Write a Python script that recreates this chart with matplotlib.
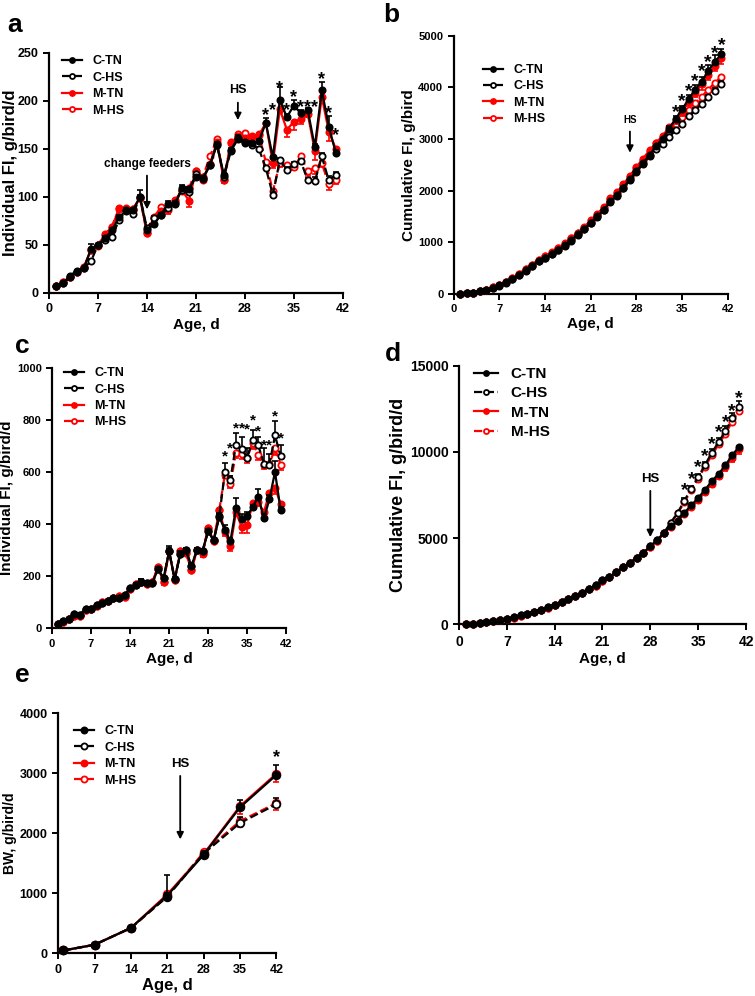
import numpy as np
import matplotlib.pyplot as plt

plt.rcParams['font.family'] = ['Liberation Sans', 'DejaVu Sans']
plt.rcParams['font.weight'] = 'bold'

# ------------------------------
# Data
days = list(range(1, 42))

# a: individual FI, g/bird/d
a_ctn = [7, 10, 18, 23, 26, 46, 50, 57, 65, 79, 85, 86, 100, 65, 72, 81, 93, 92, 109, 108, 121,
         119, 133, 154, 123, 149, 161, 157, 156, 158, 177, 141, 201, 183, 195, 187, 190, 152, 211, 173, 146]
a_chs = [7, 10, 16, 22, 26, 33, 50, 55, 58, 76, 86, 82, 100, 67, 78, 81, 88, 94, 107, 105, 124,
         120, 133, 155, 121, 148, 160, 156, 154, 150, 130, 102, 138, 128, 134, 137, 117, 116, 142, 117, 123]
a_mtn = [7, 11, 16, 22, 27, 45, 49, 60, 69, 87, 87, 87, 99, 62, 78, 85, 90, 96, 107, 96, 127,
         118, 134, 157, 117, 156, 163, 161, 162, 164, 177, 135, 191, 170, 178, 181, 186, 148, 204, 168, 150]
a_mhs = [7, 11, 16, 22, 27, 45, 50, 61, 69, 88, 88, 87, 99, 62, 79, 89, 86, 97, 106, 109, 127,
         121, 142, 160, 118, 157, 165, 166, 163, 165, 136, 106, 135, 133, 131, 142, 127, 130, 135, 113, 118]
a_ctn_err = [1, 1, 1, 1, 1, 5, 1, 2, 2, 2, 2, 2, 7, 2, 2, 2, 3, 2, 3, 2, 2,
             2, 2, 2, 2, 2, 3, 2, 2, 2, 5, 2, 13, 3, 6, 3, 2, 3, 9, 11, 3]
a_chs_err = [1, 1, 1, 1, 1, 2, 1, 2, 2, 2, 2, 2, 2, 2, 2, 2, 2, 2, 2, 2, 2,
             2, 2, 2, 2, 2, 2, 2, 2, 2, 2, 3, 2, 3, 2, 2, 3, 5, 4, 5, 3]
a_mtn_err = [1, 1, 1, 1, 1, 2, 1, 2, 2, 2, 2, 2, 2, 2, 2, 2, 8, 2, 2, 7, 2,
             2, 2, 2, 3, 2, 2, 2, 2, 2, 3, 5, 4, 8, 8, 5, 3, 10, 4, 10, 4]
a_mhs_err = [1, 1, 1, 1, 1, 2, 1, 2, 2, 2, 2, 2, 2, 2, 2, 2, 2, 2, 2, 2, 2,
             2, 2, 2, 2, 2, 2, 2, 2, 2, 3, 3, 4, 3, 3, 3, 5, 6, 4, 6, 5]
a_star_days = [31, 32, 33, 34, 35, 36, 37, 38, 39, 40, 41]
a_star_y = [185, 190, 213, 190, 203, 193, 193, 193, 222, 187, 164]

# b: cumulative FI, g/bird
b_ctn = [0, 10, 25, 50, 75, 120, 170, 225, 290, 370, 455, 540, 640, 700, 775, 855, 945, 1040, 1150, 1260, 1380,
         1500, 1630, 1790, 1910, 2060, 2220, 2380, 2530, 2690, 2860, 3010, 3200, 3390, 3580, 3770, 3960, 4110, 4320, 4500, 4640]
b_chs = [0, 10, 25, 50, 75, 110, 160, 215, 280, 360, 445, 530, 630, 695, 770, 850, 935, 1030, 1140, 1250, 1370,
         1490, 1620, 1780, 1900, 2050, 2210, 2370, 2520, 2670, 2800, 2900, 3040, 3170, 3300, 3440, 3560, 3680, 3810, 3940, 4060]
b_mtn = [0, 10, 25, 50, 80, 125, 175, 235, 305, 390, 475, 565, 660, 725, 800, 885, 975, 1075, 1180, 1280, 1410,
         1530, 1670, 1830, 1950, 2110, 2270, 2440, 2600, 2760, 2930, 3060, 3230, 3360, 3530, 3720, 3900, 4060, 4250, 4420, 4570]
b_mhs = [0, 10, 25, 50, 80, 125, 175, 235, 305, 390, 480, 565, 665, 725, 805, 895, 980, 1080, 1185, 1295, 1425,
         1545, 1690, 1850, 1965, 2125, 2290, 2460, 2620, 2780, 2920, 3030, 3160, 3290, 3420, 3560, 3690, 3820, 3960, 4090, 4210]
b_ctn_err = [0] * 32 + [50, 60, 70, 80, 90, 100, 110, 120, 110]
b_chs_err = [0] * 32 + [30, 30, 30, 40, 40, 40, 50, 50, 60]
b_mtn_err = [0] * 32 + [60, 70, 80, 80, 90, 100, 100, 110, 120]
b_mhs_err = [0] * 32 + [50, 60, 60, 70, 70, 80, 80, 90, 100]
b_star_days = [34, 35, 36, 37, 38, 39, 40, 41]
b_star_y = [3520, 3720, 3920, 4110, 4300, 4480, 4660, 4820]

# c: individual FI, g/bird/d
c_ctn = [18, 27, 37, 55, 53, 75, 75, 90, 97, 105, 115, 118, 128, 155, 165, 180, 175, 175, 228, 193, 295,
         190, 285, 300, 240, 300, 298, 372, 338, 428, 378, 335, 460, 418, 432, 465, 505, 422, 495, 600, 455]
c_chs = [18, 27, 37, 55, 53, 75, 75, 90, 97, 105, 115, 118, 128, 155, 165, 180, 175, 175, 228, 193, 295,
         190, 285, 300, 240, 300, 298, 372, 338, 430, 598, 570, 705, 688, 655, 722, 702, 632, 628, 740, 660]
c_mtn = [18, 25, 35, 48, 48, 70, 75, 85, 103, 105, 118, 125, 120, 150, 170, 180, 170, 180, 235, 180, 295,
         185, 295, 290, 225, 300, 290, 385, 335, 455, 370, 315, 445, 390, 395, 480, 485, 445, 520, 540, 478]
c_mhs = [18, 25, 35, 48, 48, 70, 75, 85, 103, 105, 118, 125, 120, 150, 170, 180, 170, 180, 235, 180, 295,
         185, 295, 290, 225, 300, 285, 385, 335, 455, 590, 555, 672, 668, 655, 712, 665, 628, 630, 690, 628]
c_ctn_err = [3, 3, 3, 5, 5, 5, 5, 5, 5, 5, 5, 5, 5, 5, 8, 8, 5, 5, 8, 10, 20,
             8, 10, 8, 10, 8, 8, 10, 8, 12, 20, 10, 40, 20, 15, 10, 30, 15, 15, 40, 10]
c_chs_err = [3, 3, 3, 5, 5, 5, 5, 5, 5, 5, 5, 5, 5, 5, 8, 8, 5, 5, 8, 10, 15,
             8, 10, 8, 10, 8, 8, 10, 8, 12, 35, 15, 45, 45, 35, 40, 30, 60, 40, 55, 45]
c_mtn_err = [3, 3, 3, 5, 5, 5, 5, 5, 5, 5, 5, 5, 5, 5, 8, 8, 5, 5, 8, 15, 10,
             8, 10, 8, 10, 8, 8, 10, 8, 10, 15, 20, 15, 25, 30, 10, 15, 10, 15, 25, 10]
c_mhs_err = [3, 3, 3, 5, 5, 5, 5, 5, 5, 5, 5, 5, 5, 5, 8, 8, 5, 5, 8, 10, 10,
             8, 10, 8, 10, 8, 10, 10, 8, 10, 15, 15, 20, 20, 20, 25, 20, 15, 15, 25, 20]
c_star_days = [31, 32, 33, 34, 35, 36, 37, 38, 39, 40, 41]
c_star_y = [658, 690, 767, 767, 762, 799, 754, 703, 703, 814, 728]

# d: cumulative FI
d_ctn = [20, 45, 80, 135, 190, 265, 340, 430, 525, 630, 745, 865, 990, 1145, 1310, 1490, 1665, 1840, 2070, 2260, 2560,
         2750, 3030, 3330, 3570, 3870, 4170, 4540, 4880, 5300, 5690, 6020, 6480, 6900, 7330, 7790, 8300, 8720, 9220, 9820, 10280]
d_chs = [20, 45, 80, 135, 190, 265, 340, 430, 525, 630, 745, 865, 990, 1145, 1310, 1490, 1665, 1840, 2070, 2260, 2560,
         2750, 3030, 3330, 3570, 3870, 4170, 4540, 4880, 5310, 5900, 6470, 7180, 7870, 8520, 9240, 9940, 10570, 11200, 11940, 12600]
d_mtn = [20, 45, 75, 125, 175, 245, 320, 405, 510, 615, 735, 860, 980, 1130, 1300, 1480, 1650, 1830, 2065, 2245, 2540,
         2725, 3020, 3310, 3535, 3835, 4125, 4510, 4845, 5300, 5670, 5985, 6400, 6800, 7200, 7680, 8160, 8600, 9120, 9660, 10140]
d_mhs = [20, 45, 75, 125, 175, 245, 320, 405, 510, 615, 735, 860, 980, 1130, 1300, 1480, 1650, 1830, 2065, 2245, 2540,
         2725, 3020, 3310, 3535, 3835, 4120, 4505, 4840, 5295, 5880, 6430, 7100, 7770, 8430, 9140, 9800, 10430, 11060, 11750, 12380]
d_chs_err = [0] * 32 + [120, 150, 180, 200, 230, 260, 300, 330, 360]
d_mtn_err = [0] * 32 + [100, 120, 140, 160, 180, 200, 220, 240, 260]
d_star_days = [33, 34, 35, 36, 37, 38, 39, 40, 41]
d_star_y = [7750, 8400, 9100, 9750, 10450, 11100, 11700, 12350, 13100]

# e: BW
e_days = [1, 7, 14, 21, 28, 35, 42]
e_ctn = [45, 140, 420, 960, 1640, 2430, 2970]
e_chs = [45, 140, 420, 940, 1660, 2170, 2480]
e_mtn = [45, 140, 420, 980, 1650, 2450, 2990]
e_mhs = [45, 140, 420, 950, 1680, 2200, 2500]
e_ctn_err = [10, 15, 30, 340, 40, 130, 160]
e_chs_err = [10, 15, 30, 60, 40, 100, 110]
e_mtn_err = [10, 15, 30, 40, 50, 130, 130]
e_mhs_err = [10, 15, 30, 40, 50, 90, 120]

labels = ['C-TN', 'C-HS', 'M-TN', 'M-HS']


def style_axis(ax, yticks, fs=8, xticks=range(0, 43, 7)):
    for s in ['top', 'right']:
        ax.spines[s].set_visible(False)
    for s in ['left', 'bottom']:
        ax.spines[s].set_linewidth(1.6)
    ax.set_xticks(list(xticks))
    ax.set_yticks(yticks)
    ax.tick_params(width=1.4, length=4, labelsize=fs)
    for t in ax.get_xticklabels() + ax.get_yticklabels():
        t.set_fontweight('bold')


def draw_series(ax, x, ys, errs, ms=4.5):
    # red drawn under black
    cols = ['black', 'black', 'red', 'red']
    lss = ['-', '--', '-', '--']
    faces = ['black', 'white', 'red', 'white']
    up = [True, True, False, False]
    handles = [None] * 4
    for i in [3, 2, 1, 0]:
        y = np.array(ys[i], dtype=float)
        if errs[i] is not None:
            e = np.array(errs[i], dtype=float)
            z = np.zeros_like(e)
            yerr = [z, e] if up[i] else [e, z]
            ax.errorbar(x, y, yerr=yerr, fmt='none', ecolor=cols[i], elinewidth=1.2,
                        capsize=2.5, capthick=1.2, clip_on=False, zorder=2 + (3 - i))
        ln, = ax.plot(x, y, color=cols[i], ls=lss[i], lw=1.6, marker='o', ms=ms,
                      mfc=faces[i], mec=cols[i], mew=1.3, clip_on=False, zorder=3 + (3 - i),
                      label=labels[i])
        handles[i] = ln
    return handles


def add_legend(ax, handles, loc='upper left', bbox=None, fs=9):
    leg = ax.legend(handles, labels, loc=loc, bbox_to_anchor=bbox, frameon=False,
                    fontsize=fs, handlelength=1.6, borderaxespad=0.2, labelspacing=0.35,
                    markerscale=0.8)
    for t in leg.get_texts():
        t.set_fontweight('bold')


def stars(ax, xs, ys, fs=13):
    for x, y in zip(xs, ys):
        ax.text(x, y, '*', ha='center', va='center', fontsize=fs, fontweight='bold')


def arrow(ax, text, x, y_text, y_start, y_end, fs=8):
    ax.annotate('', xy=(x, y_end), xytext=(x, y_start),
                arrowprops=dict(arrowstyle='-|>', color='black', lw=1.3, mutation_scale=10))
    ax.text(x, y_text, text, ha='center', va='bottom', fontsize=fs, fontweight='bold')


fig = plt.figure(figsize=(7.55, 9.96), dpi=100)

# ------------------------------
# a
ax = fig.add_axes([0.065, 0.706, 0.389, 0.241])
h = draw_series(ax, days, [a_ctn, a_chs, a_mtn, a_mhs], [a_ctn_err, a_chs_err, a_mtn_err, a_mhs_err])
ax.set_xlim(0, 42)
ax.set_ylim(0, 250)
style_axis(ax, range(0, 251, 50), fs=9)
ax.set_xlabel('Age, d', fontsize=11, fontweight='bold', labelpad=2)
ax.set_ylabel('Individual FI, g/bird/d', fontsize=12, fontweight='bold', labelpad=0)
add_legend(ax, h, bbox=(0.02, 1.02))
stars(ax, a_star_days, a_star_y)
arrow(ax, 'change feeders', 14, 128, 125, 84, fs=8.5)
arrow(ax, 'HS', 27, 205, 201, 177, fs=9)
fig.text(0.01, 0.975, 'a', fontsize=19, fontweight='bold', va='center')

# ------------------------------
# b
ax = fig.add_axes([0.601, 0.705, 0.363, 0.259])
h = draw_series(ax, days, [b_ctn, b_chs, b_mtn, b_mhs], [b_ctn_err, b_chs_err, b_mtn_err, b_mhs_err])
ax.set_xlim(0, 42)
ax.set_ylim(0, 5000)
style_axis(ax, range(0, 5001, 1000))
ax.set_xlabel('Age, d', fontsize=11, fontweight='bold', labelpad=2)
ax.set_ylabel('Cumulative FI, g/bird', fontsize=11, fontweight='bold', labelpad=2)
add_legend(ax, h, bbox=(0.08, 0.92))
stars(ax, b_star_days, b_star_y, fs=14)
arrow(ax, 'HS', 27, 3270, 3200, 2680, fs=7)
fig.text(0.508, 0.985, 'b', fontsize=19, fontweight='bold', va='center')

# ------------------------------
# c
ax = fig.add_axes([0.069, 0.369, 0.310, 0.262])
h = draw_series(ax, days, [c_ctn, c_chs, c_mtn, c_mhs], [c_ctn_err, c_chs_err, c_mtn_err, c_mhs_err])
ax.set_xlim(0, 42)
ax.set_ylim(0, 1000)
style_axis(ax, range(0, 1001, 200))
ax.set_xlabel('Age, d', fontsize=11, fontweight='bold', labelpad=2)
ax.set_ylabel('Individual FI, g/bird/d', fontsize=11, fontweight='bold', labelpad=2)
add_legend(ax, h, bbox=(0.02, 1.03))
stars(ax, c_star_days, c_star_y, fs=11)
fig.text(0.02, 0.653, 'c', fontsize=19, fontweight='bold', va='center')

# ------------------------------
# d
ax = fig.add_axes([0.608, 0.373, 0.380, 0.260])
h = draw_series(ax, days, [d_ctn, d_chs, d_mtn, d_mhs], [None, d_chs_err, d_mtn_err, None])
ax.set_xlim(0, 42)
ax.set_ylim(0, 15000)
style_axis(ax, range(0, 15001, 5000), fs=10)
ax.set_xlabel('Age, d', fontsize=11, fontweight='bold', labelpad=2)
ax.set_ylabel('Cumulative FI, g/bird/d', fontsize=13, fontweight='bold', labelpad=2)
add_legend(ax, h, bbox=(0.02, 1.03), fs=11)
stars(ax, d_star_days, d_star_y, fs=14)
arrow(ax, 'HS', 28, 8100, 7900, 4900, fs=9.5)
fig.text(0.51, 0.645, 'd', fontsize=19, fontweight='bold', va='center')

# ------------------------------
# e
ax = fig.add_axes([0.077, 0.043, 0.289, 0.241])
h = draw_series(ax, e_days, [e_ctn, e_chs, e_mtn, e_mhs], [e_ctn_err, e_chs_err, e_mtn_err, e_mhs_err], ms=5.5)
ax.set_xlim(0, 42)
ax.set_ylim(0, 4000)
style_axis(ax, range(0, 4001, 1000), fs=9)
ax.set_xlabel('Age, d', fontsize=12, fontweight='bold', labelpad=2)
ax.set_ylabel('BW, g/bird/d', fontsize=10, fontweight='bold', labelpad=2)
add_legend(ax, h, bbox=(0.04, 0.98))
stars(ax, [42], [3260])
arrow(ax, 'HS', 23.5, 3050, 3000, 1850, fs=9.5)
fig.text(0.02, 0.322, 'e', fontsize=19, fontweight='bold', va='center')

plt.savefig('out.png', dpi=100)
